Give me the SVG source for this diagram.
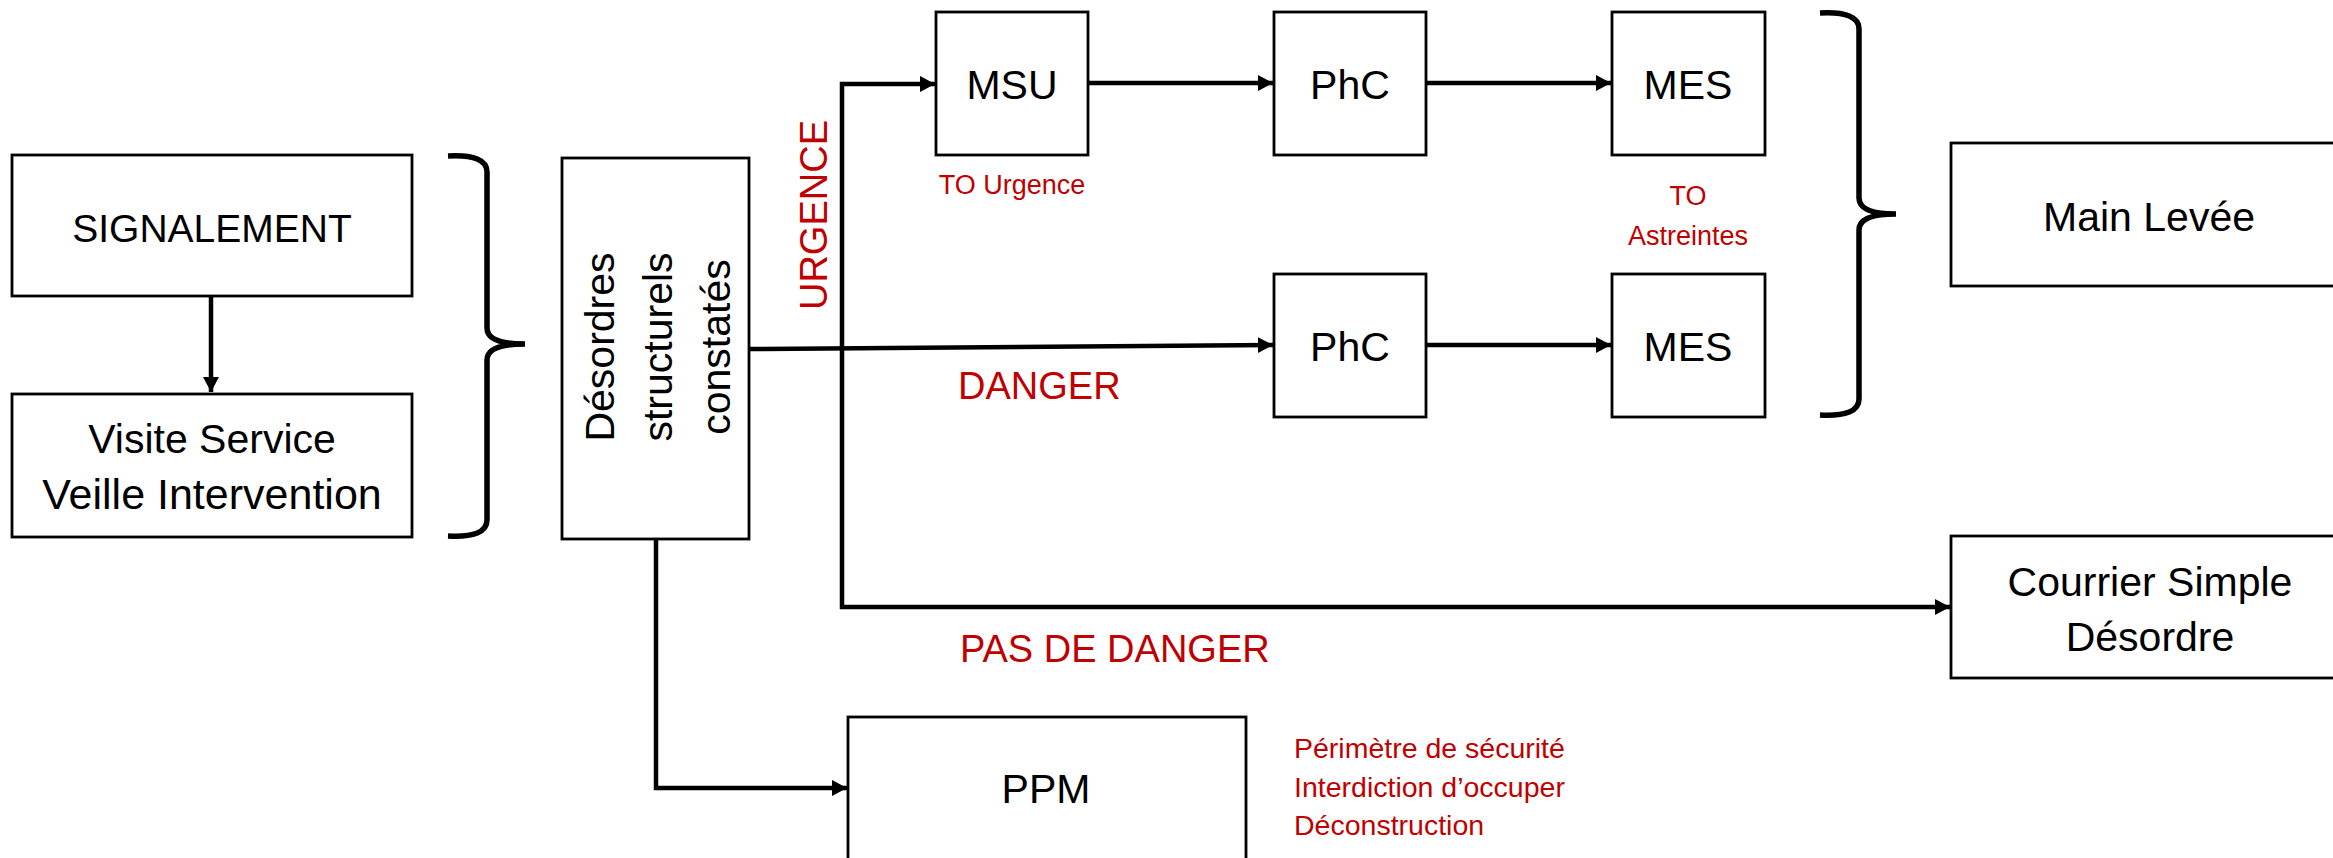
<svg xmlns="http://www.w3.org/2000/svg" width="2333" height="858" viewBox="0 0 2333 858">
<style>
.box{fill:#fff;stroke:#000;stroke-width:2.8}
.lbl{font-family:"Liberation Sans",Arial,sans-serif;font-size:41px;fill:#000;text-anchor:middle}
.red{font-family:"Liberation Sans",Arial,sans-serif;font-size:38px;fill:#C00000}
.sred{font-family:"Liberation Sans",Arial,sans-serif;font-size:27px;fill:#C00000}
.con{fill:none;stroke:#000;stroke-width:4.5}
.brace{fill:none;stroke:#000;stroke-width:5.5}
</style>
<defs>
<marker id="arr" markerUnits="userSpaceOnUse" markerWidth="16" markerHeight="18" refX="15" refY="9" orient="auto">
<path d="M0,1 L15,9 L0,17 Z" fill="#000"/>
</marker>
</defs>
<rect width="2333" height="858" fill="#fff"/>
<g id="connectors">
<path class="con" d="M211,297 V392" marker-end="url(#arr)"/>
<path class="con" d="M750,349 L1273,345" marker-end="url(#arr)"/>
<path class="con" d="M842,349 V84 H935" marker-end="url(#arr)"/>
<path class="con" d="M842,349 V607 H1950" marker-end="url(#arr)"/>
<path class="con" d="M1088,83 H1273" marker-end="url(#arr)"/>
<path class="con" d="M1426,83 H1611" marker-end="url(#arr)"/>
<path class="con" d="M1426,345 H1611" marker-end="url(#arr)"/>
<path class="con" d="M656,539 V788 H847" marker-end="url(#arr)"/>
</g>
<g id="brace-left"><path class="brace" d="M448,156 Q487,154 487,172 L487,328 Q487,344 525,344 Q487,344 487,360 L487,520 Q487,538 448,536"/></g>
<g id="brace-right"><path class="brace" d="M1820,13 Q1859,11 1859,29 L1859,198 Q1859,214 1896,214 Q1859,214 1859,230 L1859,399 Q1859,417 1820,415"/></g>
<g id="signalement"><rect class="box" x="12" y="155" width="400" height="141"/><text class="lbl" x="212" y="242" style="font-size:39px">SIGNALEMENT</text></g>
<g id="visite"><rect class="box" x="12" y="394" width="400" height="143"/><text class="lbl" x="212" y="453">Visite Service</text><text class="lbl" x="212" y="509" style="font-size:43px">Veille Intervention</text></g>
<g id="desordres"><rect class="box" x="562" y="158" width="187" height="381"/>
<text class="lbl" transform="translate(614,347) rotate(-90)">Désordres</text>
<text class="lbl" transform="translate(672,347) rotate(-90)">structurels</text>
<text class="lbl" transform="translate(730,347) rotate(-90)">constatés</text></g>
<g id="urgence-label"><text class="red" text-anchor="middle" transform="translate(827,215) rotate(-90)">URGENCE</text></g>
<g id="msu"><rect class="box" x="936" y="12" width="152" height="143"/><text class="lbl" x="1012" y="99">MSU</text><text class="sred" x="1012" y="194" text-anchor="middle">TO Urgence</text></g>
<g id="phc1"><rect class="box" x="1274" y="12" width="152" height="143"/><text class="lbl" x="1350" y="99">PhC</text></g>
<g id="mes1"><rect class="box" x="1612" y="12" width="153" height="143"/><text class="lbl" x="1688" y="99">MES</text></g>
<g id="to-astreintes"><text class="sred" x="1688" y="205" text-anchor="middle">TO</text><text class="sred" x="1688" y="245" text-anchor="middle">Astreintes</text></g>
<g id="phc2"><rect class="box" x="1274" y="274" width="152" height="143"/><text class="lbl" x="1350" y="361">PhC</text></g>
<g id="mes2"><rect class="box" x="1612" y="274" width="153" height="143"/><text class="lbl" x="1688" y="361">MES</text></g>
<g id="danger-label"><text class="red" x="958" y="399">DANGER</text></g>
<g id="pas-danger-label"><text class="red" x="960" y="662">PAS DE DANGER</text></g>
<g id="main-levee"><rect class="box" x="1951" y="143" width="400" height="143"/><text class="lbl" x="2149" y="231">Main Levée</text></g>
<g id="courrier"><rect class="box" x="1951" y="536" width="400" height="142"/><text class="lbl" x="2150" y="596">Courrier Simple</text><text class="lbl" x="2150" y="651">Désordre</text></g>
<g id="ppm"><rect class="box" x="848" y="717" width="398" height="160"/><text class="lbl" x="1046" y="803">PPM</text></g>
<g id="ppm-notes"><text class="sred" x="1294" y="758" style="font-size:28.5px">Périmètre de sécurité</text><text class="sred" x="1294" y="797" style="font-size:28.5px">Interdiction d’occuper</text><text class="sred" x="1294" y="835" style="font-size:28.5px">Déconstruction</text></g>
</svg>
